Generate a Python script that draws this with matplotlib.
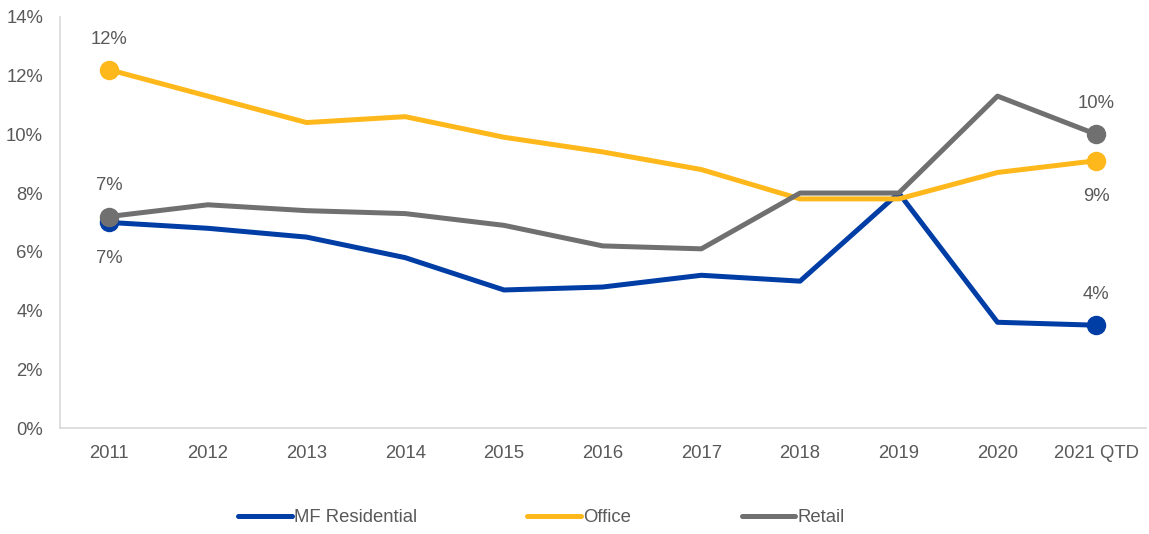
import matplotlib.pyplot as plt
from matplotlib.ticker import PercentFormatter

plt.rcParams['font.family'] = ['Liberation Sans', 'DejaVu Sans']

years = ['2011', '2012', '2013', '2014', '2015', '2016', '2017', '2018', '2019', '2020', '2021 QTD']
mf_residential = [7.0, 6.8, 6.5, 5.8, 4.7, 4.8, 5.2, 5.0, 8.0, 3.6, 3.5]
office = [12.2, 11.3, 10.4, 10.6, 9.9, 9.4, 8.8, 7.8, 7.8, 8.7, 9.1]
retail = [7.2, 7.6, 7.4, 7.3, 6.9, 6.2, 6.1, 8.0, 8.0, 11.3, 10.0]

blue = '#003DA5'
yellow = '#FFB81C'
grey = '#707070'
txt = '#595959'
fs = 13.3

fig = plt.figure(figsize=(11.49, 5.34), dpi=100)
ax = fig.add_axes([0.052, 0.1985, 0.945, 0.77])

x = list(range(len(years)))
series = [('MF Residential', mf_residential, blue),
          ('Office', office, yellow),
          ('Retail', retail, grey)]
for name, vals, col in series:
    ax.plot(x, vals, color=col, lw=3.6, label=name, solid_capstyle='round', zorder=2)
    ax.plot([x[0], x[-1]], [vals[0], vals[-1]], 'o', color=col, ms=13, zorder=3)

# end-point labels (above / below)
def lab(i, v, up):
    ax.annotate(f'{v:.0f}%', (x[i], v), xytext=(0, 22 if up else -26),
                textcoords='offset points', ha='center', va='center',
                fontsize=fs, color=txt)

lab(0, office[0], True)
lab(0, retail[0], True)
lab(0, mf_residential[0], False)
lab(-1, retail[-1], True)
lab(-1, office[-1], False)
lab(-1, mf_residential[-1], True)

ax.set_ylim(0, 14)
ax.set_xlim(-0.5, len(years) - 0.5)
ax.set_yticks(range(0, 15, 2))
ax.yaxis.set_major_formatter(PercentFormatter(decimals=0))
ax.set_xticks(x)
ax.set_xticklabels(years)
ax.tick_params(length=0, labelsize=fs, labelcolor=txt, pad=12)
ax.tick_params(axis='y', pad=12)
for s in ['top', 'right']:
    ax.spines[s].set_visible(False)
for s in ['left', 'bottom']:
    ax.spines[s].set_color('#D9D9D9')
    ax.spines[s].set_linewidth(1.2)

leg = fig.legend(loc='center', bbox_to_anchor=(0.471, 0.03), ncol=3, frameon=False,
                 fontsize=fs, handlelength=2.9, handletextpad=0.1, columnspacing=6.0)
for t in leg.get_texts():
    t.set_color(txt)

fig.savefig('out.png', dpi=100)
